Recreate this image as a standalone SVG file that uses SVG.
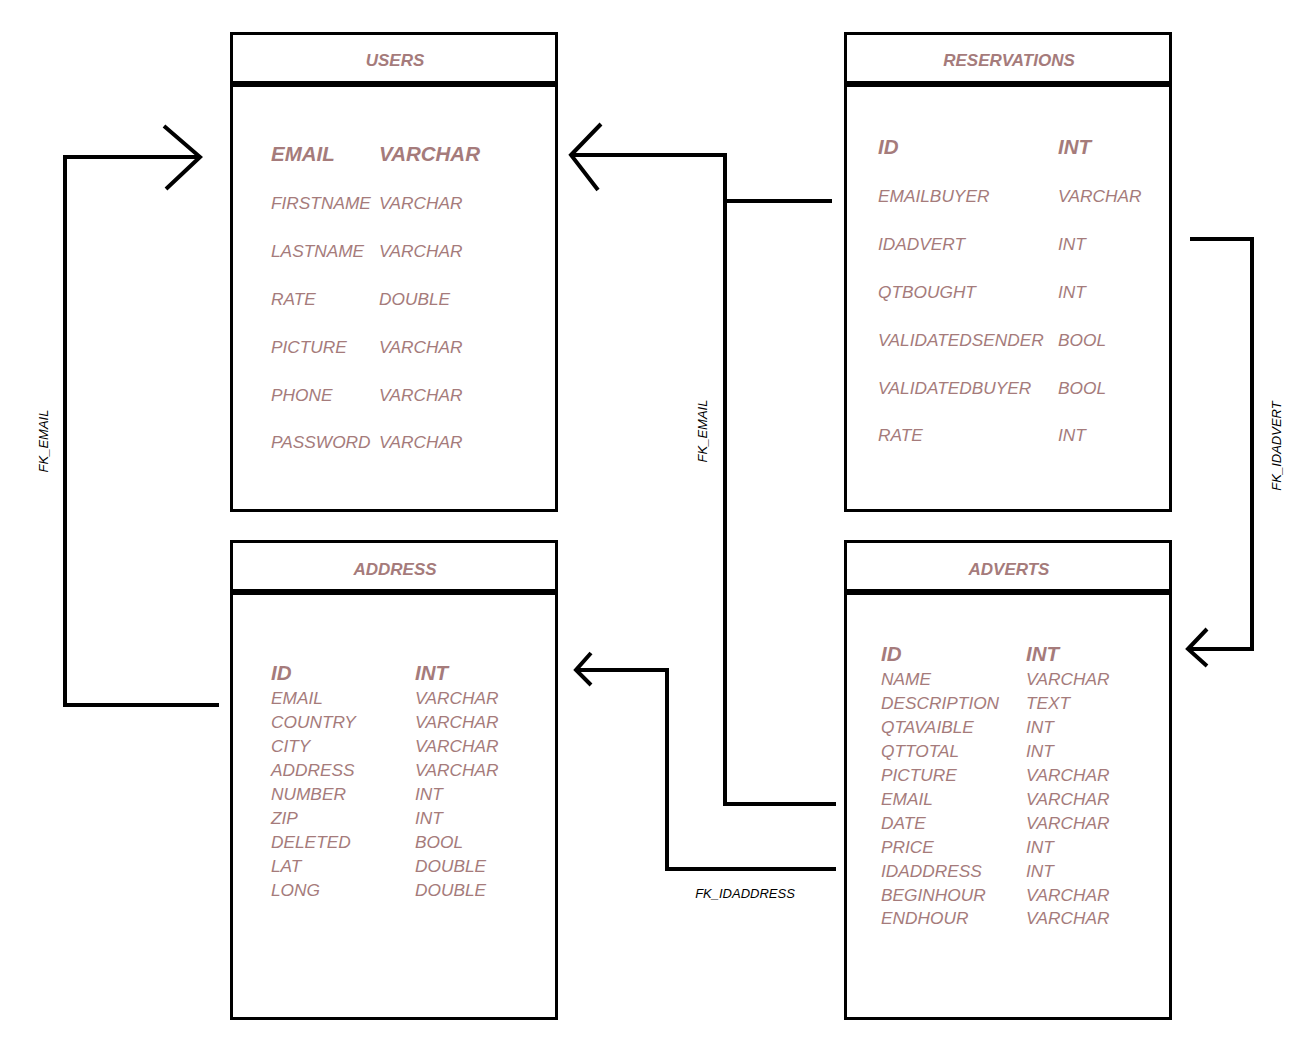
<svg xmlns="http://www.w3.org/2000/svg" width="1302" height="1044" viewBox="0 0 1302 1044">
  <style>
    .box { fill: #ffffff; stroke: #000000; stroke-width: 3; }
    .sep { stroke: #000000; stroke-width: 6; }
    .title { font-family: "Liberation Sans", Arial, sans-serif; font-style: italic; font-weight: bold; font-size: 17px; fill: #a57b7b; text-anchor: middle; }
    .key { font-family: "Liberation Sans", Arial, sans-serif; font-style: italic; font-weight: bold; font-size: 20.5px; fill: #a57b7b; }
    .f { font-family: "Liberation Sans", Arial, sans-serif; font-style: italic; font-size: 17.3px; fill: #a57b7b; }
    .link { fill: none; stroke: #000000; stroke-width: 4; stroke-linejoin: miter; }
    .lbl { font-family: "Liberation Sans", Arial, sans-serif; font-style: italic; font-size: 13px; fill: #000000; text-anchor: middle; }
  </style>
  <rect width="1302" height="1044" fill="#ffffff"/>

  <!-- USERS table -->
  <g id="users">
    <rect class="box" x="231.5" y="33.5" width="325" height="477"/>
    <line class="sep" x1="231" y1="84" x2="557" y2="84"/>
    <text class="title" x="395" y="66">USERS</text>
    <text class="key" x="271" y="161">EMAIL</text><text class="key" x="379" y="161">VARCHAR</text>
    <text class="f" x="271" y="209">FIRSTNAME</text><text class="f" x="379" y="209">VARCHAR</text>
    <text class="f" x="271" y="257">LASTNAME</text><text class="f" x="379" y="257">VARCHAR</text>
    <text class="f" x="271" y="305">RATE</text><text class="f" x="379" y="305">DOUBLE</text>
    <text class="f" x="271" y="353">PICTURE</text><text class="f" x="379" y="353">VARCHAR</text>
    <text class="f" x="271" y="401">PHONE</text><text class="f" x="379" y="401">VARCHAR</text>
    <text class="f" x="271" y="448">PASSWORD</text><text class="f" x="379" y="448">VARCHAR</text>
  </g>

  <!-- RESERVATIONS table -->
  <g id="reservations">
    <rect class="box" x="845.5" y="33.5" width="325" height="477"/>
    <line class="sep" x1="845" y1="84" x2="1171" y2="84"/>
    <text class="title" x="1009" y="66">RESERVATIONS</text>
    <text class="key" x="878" y="154">ID</text><text class="key" x="1058" y="154">INT</text>
    <text class="f" x="878" y="202">EMAILBUYER</text><text class="f" x="1058" y="202">VARCHAR</text>
    <text class="f" x="878" y="250">IDADVERT</text><text class="f" x="1058" y="250">INT</text>
    <text class="f" x="878" y="298">QTBOUGHT</text><text class="f" x="1058" y="298">INT</text>
    <text class="f" x="878" y="346">VALIDATEDSENDER</text><text class="f" x="1058" y="346">BOOL</text>
    <text class="f" x="878" y="394">VALIDATEDBUYER</text><text class="f" x="1058" y="394">BOOL</text>
    <text class="f" x="878" y="441">RATE</text><text class="f" x="1058" y="441">INT</text>
  </g>

  <!-- ADDRESS table -->
  <g id="address">
    <rect class="box" x="231.5" y="541.5" width="325" height="477"/>
    <line class="sep" x1="231" y1="592" x2="557" y2="592"/>
    <text class="title" x="395" y="575">ADDRESS</text>
    <text class="key" x="271" y="680">ID</text><text class="key" x="415" y="680">INT</text>
    <text class="f" x="271" y="704">EMAIL</text><text class="f" x="415" y="704">VARCHAR</text>
    <text class="f" x="271" y="728">COUNTRY</text><text class="f" x="415" y="728">VARCHAR</text>
    <text class="f" x="271" y="752">CITY</text><text class="f" x="415" y="752">VARCHAR</text>
    <text class="f" x="271" y="776">ADDRESS</text><text class="f" x="415" y="776">VARCHAR</text>
    <text class="f" x="271" y="800">NUMBER</text><text class="f" x="415" y="800">INT</text>
    <text class="f" x="271" y="824">ZIP</text><text class="f" x="415" y="824">INT</text>
    <text class="f" x="271" y="848">DELETED</text><text class="f" x="415" y="848">BOOL</text>
    <text class="f" x="271" y="872">LAT</text><text class="f" x="415" y="872">DOUBLE</text>
    <text class="f" x="271" y="896">LONG</text><text class="f" x="415" y="896">DOUBLE</text>
  </g>

  <!-- ADVERTS table -->
  <g id="adverts">
    <rect class="box" x="845.5" y="541.5" width="325" height="477"/>
    <line class="sep" x1="845" y1="592" x2="1171" y2="592"/>
    <text class="title" x="1009" y="575">ADVERTS</text>
    <text class="key" x="881" y="661">ID</text><text class="key" x="1026" y="661">INT</text>
    <text class="f" x="881" y="685">NAME</text><text class="f" x="1026" y="685">VARCHAR</text>
    <text class="f" x="881" y="709">DESCRIPTION</text><text class="f" x="1026" y="709">TEXT</text>
    <text class="f" x="881" y="733">QTAVAIBLE</text><text class="f" x="1026" y="733">INT</text>
    <text class="f" x="881" y="757">QTTOTAL</text><text class="f" x="1026" y="757">INT</text>
    <text class="f" x="881" y="781">PICTURE</text><text class="f" x="1026" y="781">VARCHAR</text>
    <text class="f" x="881" y="805">EMAIL</text><text class="f" x="1026" y="805">VARCHAR</text>
    <text class="f" x="881" y="829">DATE</text><text class="f" x="1026" y="829">VARCHAR</text>
    <text class="f" x="881" y="853">PRICE</text><text class="f" x="1026" y="853">INT</text>
    <text class="f" x="881" y="877">IDADDRESS</text><text class="f" x="1026" y="877">INT</text>
    <text class="f" x="881" y="901">BEGINHOUR</text><text class="f" x="1026" y="901">VARCHAR</text>
    <text class="f" x="881" y="924">ENDHOUR</text><text class="f" x="1026" y="924">VARCHAR</text>
  </g>

  <!-- Foreign key connectors -->
  <g id="connectors">
    <!-- ADDRESS.EMAIL -> USERS.EMAIL -->
    <polyline class="link" points="219,705 65,705 65,157 200,157"/>
    <polyline class="link" points="164,126 200,157 166,189"/>
    <text class="lbl" transform="translate(48,441) rotate(-90)">FK_EMAIL</text>

    <!-- ADVERTS.EMAIL / RESERVATIONS.EMAILBUYER -> USERS.EMAIL -->
    <polyline class="link" points="836,804 725,804 725,155 571,155"/>
    <line class="link" x1="725" y1="201" x2="832" y2="201"/>
    <polyline class="link" points="601,124 571,155 598,190"/>
    <text class="lbl" transform="translate(707,431) rotate(-90)">FK_EMAIL</text>

    <!-- RESERVATIONS.IDADVERT -> ADVERTS.ID -->
    <polyline class="link" points="1190,239 1252,239 1252,649 1188,649"/>
    <polyline class="link" points="1207,629 1188,649 1207,666"/>
    <text class="lbl" transform="translate(1281,446) rotate(-90)">FK_IDADVERT</text>

    <!-- ADVERTS.IDADDRESS -> ADDRESS.ID -->
    <polyline class="link" points="836,869 667,869 667,670 576,670"/>
    <polyline class="link" points="591,653 576,670 591,685"/>
    <text class="lbl" x="745" y="898">FK_IDADDRESS</text>
  </g>
</svg>
